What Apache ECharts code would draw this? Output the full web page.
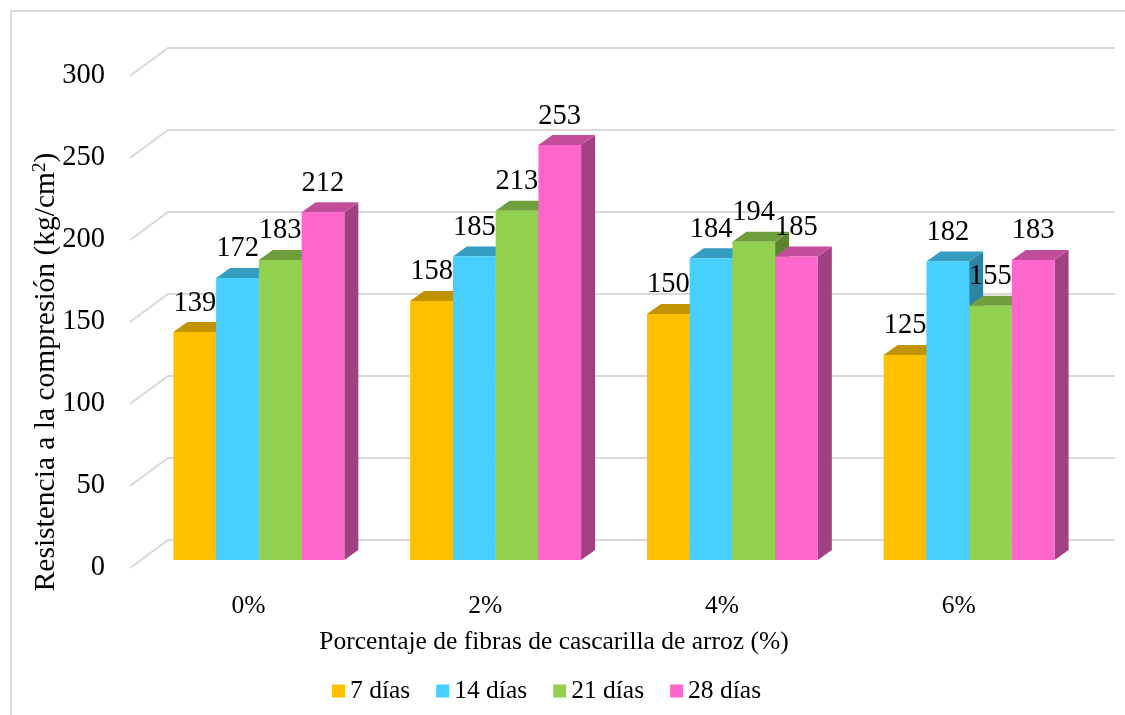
<!DOCTYPE html>
<html>
<head>
<meta charset="utf-8">
<script src="https://cdn.jsdelivr.net/npm/echarts@6/dist/echarts.min.js"></script>
<style>
  html, body { margin: 0; padding: 0; background: #ffffff; }
  #chart { width: 1125px; height: 715px; }
</style>
</head>
<body>
<div id="chart"></div>
<script>
// Compressive strength by rice-husk fibre percentage and curing age
const categories = ['0%', '2%', '4%', '6%'];
const seriesNames = ['7 días', '14 días', '21 días', '28 días'];
const dias7 = [139, 158, 150, 125];
const dias14 = [172, 185, 184, 182];
const dias21 = [183, 213, 194, 155];
const dias28 = [212, 253, 185, 183];
const yTicks = [0, 50, 100, 150, 200, 250, 300];

const seriesValues = [dias7, dias14, dias21, dias28];

// face colours for the pseudo-3D columns
const faces = [
  { front: '#FFC000', top: '#C29200', side: '#A27A00' },
  { front: '#47CFFF', top: '#369DC2', side: '#2D84A3' },
  { front: '#92D050', top: '#6F9E3D', side: '#5D8433' },
  { front: '#FF66CC', top: '#C24E9B', side: '#A24182' }
];

const FONT = '"Liberation Serif", "Times New Roman", serif';

// wall / floor depth of the 3D box
const WALL_DX = 38, WALL_DY = 28;
// where the column fronts sit inside the floor depth
const SHIFT_X = 10.5, SHIFT_Y = 8;
// thickness of each column
const BAR_DX = 14, BAR_DY = 10;
// share of a category band taken by the group of columns
const GROUP_FRAC = 0.722;

function gridRenderer(params, api) {
  const cs = params.coordSys;
  const y = api.coord([0, api.value(1)])[1];
  return {
    type: 'polyline',
    silent: true,
    shape: {
      points: [
        [cs.x, y],
        [cs.x + WALL_DX, y - WALL_DY],
        [cs.x + cs.width + WALL_DX, y - WALL_DY]
      ]
    },
    style: { stroke: '#d9d9d9', lineWidth: 2, fill: null }
  };
}

function makeBarRenderer(k) {
  const f = faces[k];
  return function (params, api) {
    const cat = api.value(0);
    const val = api.value(1);
    const base = api.coord([cat, 0]);
    const topPt = api.coord([cat, val]);
    const band = api.size([1, 0])[0];
    const groupW = band * GROUP_FRAC;
    const barW = groupW / 4;
    const x0 = base[0] + SHIFT_X - groupW / 2 + k * barW;
    const x1 = x0 + barW;
    const yb = base[1] - SHIFT_Y;
    const yt = topPt[1] - SHIFT_Y;
    return {
      type: 'group',
      children: [
        {
          type: 'polygon',
          shape: { points: [[x1, yt], [x1 + BAR_DX, yt - BAR_DY], [x1 + BAR_DX, yb - BAR_DY], [x1, yb]] },
          style: { fill: f.side }
        },
        {
          type: 'polygon',
          shape: { points: [[x0, yt], [x0 + BAR_DX, yt - BAR_DY], [x1 + BAR_DX, yt - BAR_DY], [x1, yt]] },
          style: { fill: f.top }
        },
        {
          type: 'rect',
          shape: { x: x0, y: yt, width: barW, height: yb - yt },
          style: { fill: f.front }
        },
        {
          type: 'text',
          z2: 100,
          style: {
            text: String(val),
            x: (x0 + x1) / 2,
            y: yt - 29,
            align: 'center',
            verticalAlign: 'middle',
            font: '28.5px ' + FONT,
            fill: '#000000'
          }
        }
      ]
    };
  };
}

const chart = echarts.init(document.getElementById('chart'), null, { renderer: 'canvas' });

const series = [
  {
    name: 'grid',
    type: 'custom',
    silent: true,
    z: 1,
    renderItem: gridRenderer,
    encode: { x: 0, y: 1 },
    data: yTicks.map(v => [0, v])
  }
].concat(seriesValues.map((vals, k) => ({
  name: seriesNames[k],
  type: 'custom',
  z: 2,
  renderItem: makeBarRenderer(k),
  encode: { x: 0, y: 1 },
  itemStyle: { color: faces[k].front },
  data: vals.map((v, i) => [i, v])
})));

chart.setOption({
  animation: false,
  backgroundColor: '#ffffff',
  grid: { left: 130, right: 48, top: 76, bottom: 147, containLabel: false },
  xAxis: {
    type: 'category',
    data: categories,
    axisLine: { show: false },
    axisTick: { show: false },
    axisLabel: { fontFamily: FONT, fontSize: 25.5, color: '#000000', margin: 25 }
  },
  yAxis: {
    type: 'value',
    min: 0,
    max: 300,
    interval: 50,
    axisLine: { show: false },
    axisTick: { show: false },
    splitLine: { show: false },
    axisLabel: { fontFamily: FONT, fontSize: 28.5, color: '#000000', margin: 25 }
  },
  legend: {
    data: seriesNames,
    left: 327,
    top: 673,
    icon: 'rect',
    itemWidth: 13,
    itemHeight: 13,
    itemGap: 26,
    textStyle: { fontFamily: FONT, fontSize: 25.5, color: '#000000' }
  },
  graphic: [
    {
      type: 'rect',
      silent: true,
      shape: { x: 11, y: 11, width: 1300, height: 900 },
      style: { fill: null, stroke: '#d9d9d9', lineWidth: 2 }
    },
    {
      type: 'text',
      silent: true,
      x: 46,
      y: 372,
      rotation: Math.PI / 2,
      style: {
        text: 'Resistencia a la compresión (kg/cm{sup|2})',
        align: 'center',
        verticalAlign: 'middle',
        font: '29.5px ' + FONT,
        fill: '#000000',
        rich: {
          sup: { fontSize: 19, fontFamily: FONT, verticalAlign: 'top', fill: '#000000' }
        }
      }
    },
    {
      type: 'text',
      silent: true,
      x: 554,
      y: 642,
      style: {
        text: 'Porcentaje de fibras de cascarilla de arroz (%)',
        align: 'center',
        verticalAlign: 'middle',
        font: '25.5px ' + FONT,
        fill: '#000000'
      }
    }
  ],
  series: series
});
</script>
</body>
</html>
